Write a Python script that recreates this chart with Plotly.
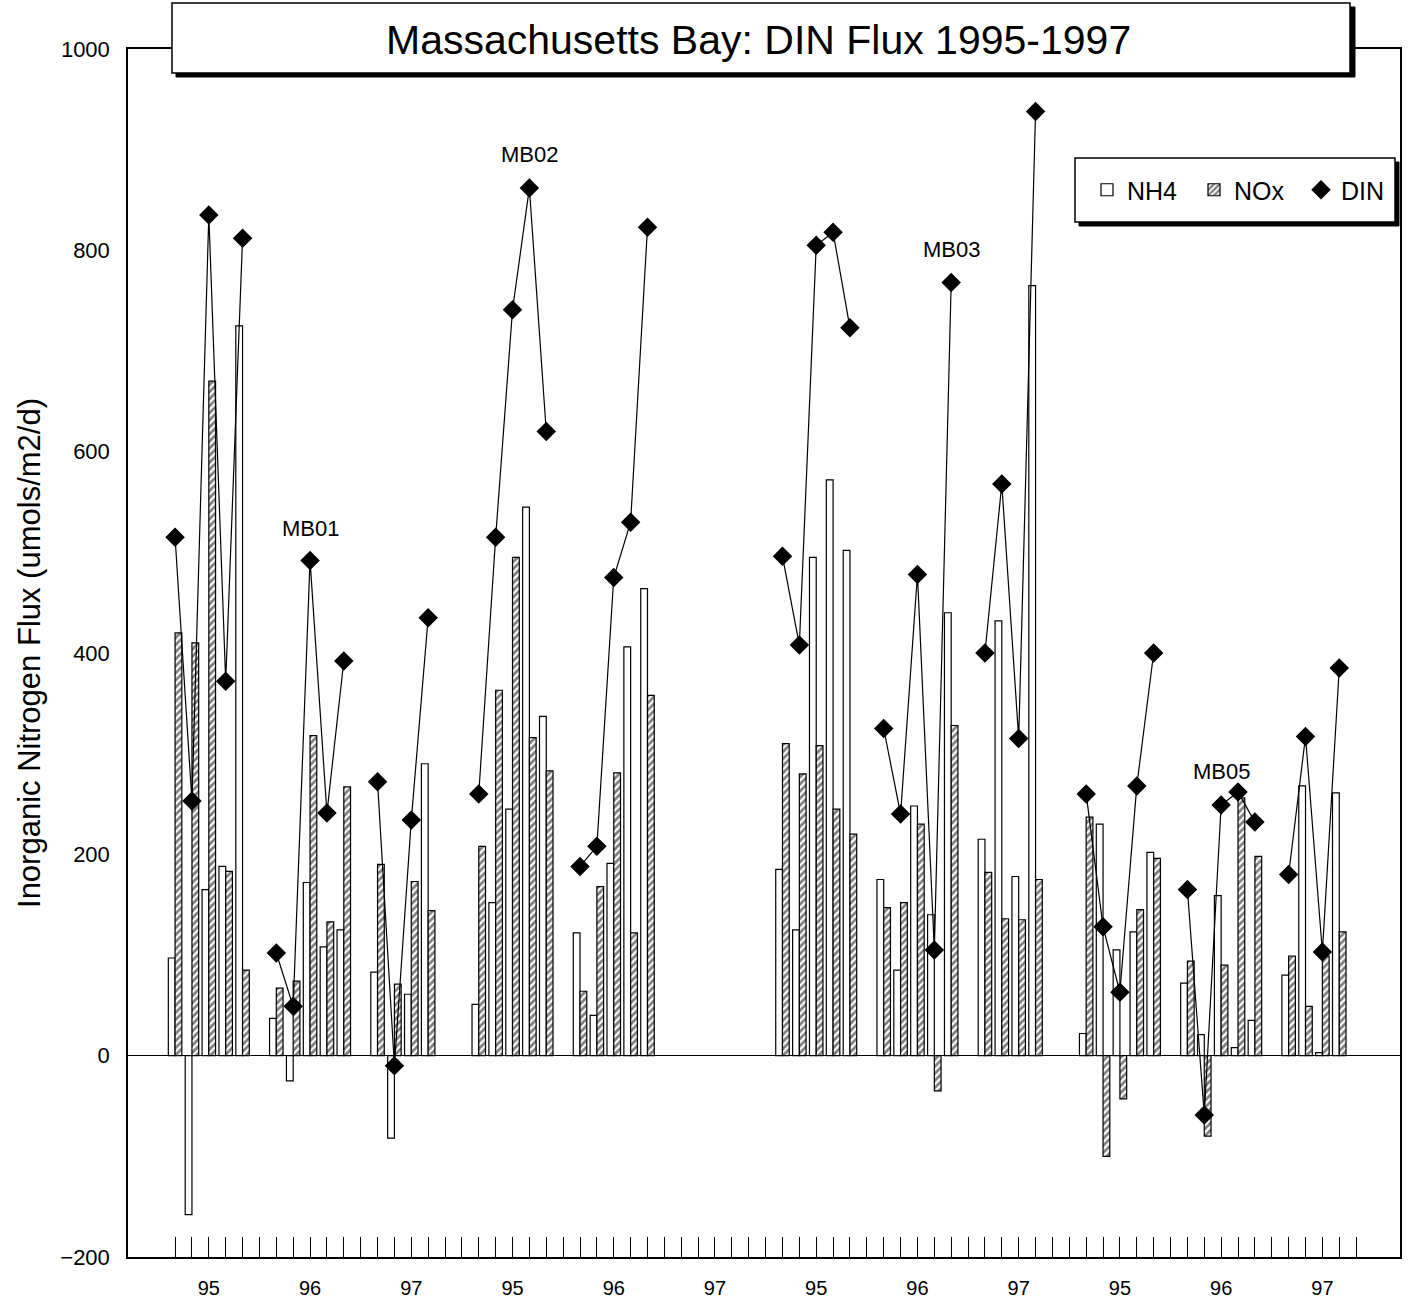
import plotly.graph_objects as go

# stations and years (one group per station-year)
stations = ["MB01", "MB02", "MB03", "MB05"]
years = ["95", "96", "97"]

# fluxes per station-year, sampling events in order (umols/m2/d)
nh4 = [
    [97, -158, 165, 188, 725],      # MB01 95
    [37, -25, 172, 108, 125],       # MB01 96
    [83, -82, 61, 290],             # MB01 97
    [51, 152, 245, 545, 337],       # MB02 95
    [122, 40, 191, 406, 464],       # MB02 96
    [],                             # MB02 97
    [185, 125, 495, 572, 502],      # MB03 95
    [175, 85, 248, 140, 440],       # MB03 96
    [215, 432, 178, 765],           # MB03 97
    [22, 230, 105, 123, 202],       # MB05 95
    [72, 21, 159, 8, 35],           # MB05 96
    [80, 268, 3, 261],              # MB05 97
]
nox = [
    [420, 410, 670, 183, 85],
    [67, 74, 318, 133, 267],
    [190, 71, 173, 144],
    [208, 363, 495, 316, 283],
    [64, 168, 281, 122, 358],
    [],
    [310, 280, 308, 245, 220],
    [147, 152, 230, -35, 328],
    [182, 136, 135, 175],
    [237, -100, -43, 145, 196],
    [94, -80, 90, 256, 198],
    [99, 49, 99, 123],
]
din = [
    [515, 253, 835, 372, 812],
    [102, 49, 492, 241, 392],
    [272, -10, 234, 435],
    [260, 515, 741, 862, 620],
    [188, 208, 475, 530, 823],
    [],
    [496, 408, 805, 818, 723],
    [325, 240, 478, 105, 768],
    [400, 568, 315, 938],
    [260, 128, 63, 268, 400],
    [165, -59, 249, 262, 232],
    [180, 317, 103, 385],
]

SLOTS = 6  # 5 sampling slots + 1 blank per group
n_groups = len(stations) * len(years)

x_bar, y_nh4, y_nox, x_din, y_din, x_line, y_line = [], [], [], [], [], [], []
for g in range(n_groups):
    for j in range(len(nh4[g])):
        x_bar.append(g * SLOTS + j)
        y_nh4.append(nh4[g][j])
        y_nox.append(nox[g][j])
    for j, v in enumerate(din[g]):
        x_din.append(g * SLOTS + j)
        y_din.append(v)
        x_line.append(g * SLOTS + j)
        y_line.append(v)
    x_line.append(None)
    y_line.append(None)

tick_vals = list(range(n_groups * SLOTS - 1))
tick_text = [""] * len(tick_vals)
for g in range(n_groups):
    tick_text[g * SLOTS + 2] = years[g % len(years)]

FONT = "Arial, Liberation Sans, sans-serif"

# plot area in pixels
W, H = 1413, 1299
L, R, T, B = 128, 1400, 49, 1257


def px(x):
    return (x - L) / (R - L)


def py(y):
    return (B - y) / (B - T)


fig = go.Figure()
fig.add_trace(go.Bar(
    x=x_bar, y=y_nh4, name="NH4",
    marker=dict(color="white", line=dict(color="black", width=1.2)),
))
fig.add_trace(go.Bar(
    x=x_bar, y=y_nox, name="NOx",
    marker=dict(color="white", line=dict(color="black", width=1.2),
                pattern=dict(shape="/", fgcolor="black", bgcolor="white",
                             size=5, solidity=0.55)),
))
fig.add_trace(go.Scatter(
    x=x_line, y=y_line, mode="lines", showlegend=False,
    line=dict(color="black", width=1.2), hoverinfo="skip",
))
fig.add_trace(go.Scatter(
    x=x_din, y=y_din, mode="markers", name="DIN",
    marker=dict(symbol="diamond", color="black", size=15),
))

# station labels
label_pos = {"MB01": (8, 524), "MB02": (21, 895), "MB03": (46, 801), "MB05": (62, 282)}
for s in stations:
    xs, ys = label_pos[s]
    fig.add_annotation(x=xs, y=ys, text=s, showarrow=False,
                       font=dict(family=FONT, size=22, color="black"))

# title box with shadow
fig.add_shape(type="rect", xref="paper", yref="paper",
              x0=px(176), x1=px(1355), y0=py(77), y1=py(7),
              fillcolor="black", line=dict(color="black", width=1), layer="above")
fig.add_shape(type="rect", xref="paper", yref="paper",
              x0=px(172), x1=px(1350), y0=py(73), y1=py(3),
              fillcolor="white", line=dict(color="black", width=1.5), layer="above")
fig.add_annotation(xref="paper", yref="paper", x=px(758), y=py(40),
                   xanchor="center", yanchor="middle",
                   text="Massachusetts Bay: DIN Flux 1995-1997", showarrow=False,
                   font=dict(family=FONT, size=41, color="black"))

# legend box with shadow
fig.add_shape(type="rect", xref="paper", yref="paper",
              x0=px(1079), x1=px(1399), y0=py(226), y1=py(162),
              fillcolor="black", line=dict(color="black", width=1), layer="above")
fig.add_shape(type="rect", xref="paper", yref="paper",
              x0=px(1075), x1=px(1395), y0=py(222), y1=py(158),
              fillcolor="white", line=dict(color="black", width=1.5), layer="above")

fig.update_layout(
    width=W, height=H,
    margin=dict(l=L, r=W - R, t=T, b=H - B, autoexpand=False),
    plot_bgcolor="white", paper_bgcolor="white",
    barmode="group", bargap=0.2, bargroupgap=0,
    font=dict(family=FONT, color="black"),
    showlegend=True,
    legend=dict(orientation="h", x=px(1087), xanchor="left", y=py(190), yanchor="middle",
                bgcolor="rgba(0,0,0,0)", borderwidth=0,
                font=dict(family=FONT, size=25, color="black"),
                itemwidth=30, entrywidth=62, entrywidthmode="pixels",
                traceorder="normal"),
    xaxis=dict(range=[-2.79, 72.6], tickvals=tick_vals, ticktext=tick_text,
               ticks="inside", ticklen=20, tickcolor="black", tickwidth=1,
               ticklabelstandoff=12, automargin=False,
               showline=True, mirror=True, linecolor="black", linewidth=1.5,
               showgrid=False, zeroline=False,
               tickfont=dict(family=FONT, size=20, color="black")),
    yaxis=dict(range=[-200, 1000], tickvals=list(range(-200, 1001, 200)),
               ticks="", ticklabelstandoff=12, automargin=False,
               showline=True, mirror=True, linecolor="black", linewidth=1.5,
               showgrid=False, zeroline=True, zerolinecolor="black", zerolinewidth=1,
               tickfont=dict(family=FONT, size=22, color="black"),
               title=dict(text="Inorganic Nitrogen Flux (umols/m2/d)",
                          font=dict(family=FONT, size=31, color="black"), standoff=10)),
)

# drop the default page margin and scrollbars so the figure sits at the window origin
fig.write_html(
    "out.html", config={"displayModeBar": False},
    post_script="document.body.style.margin='0';"
                "document.body.style.overflow='hidden';"
                "document.documentElement.style.overflow='hidden';",
)
